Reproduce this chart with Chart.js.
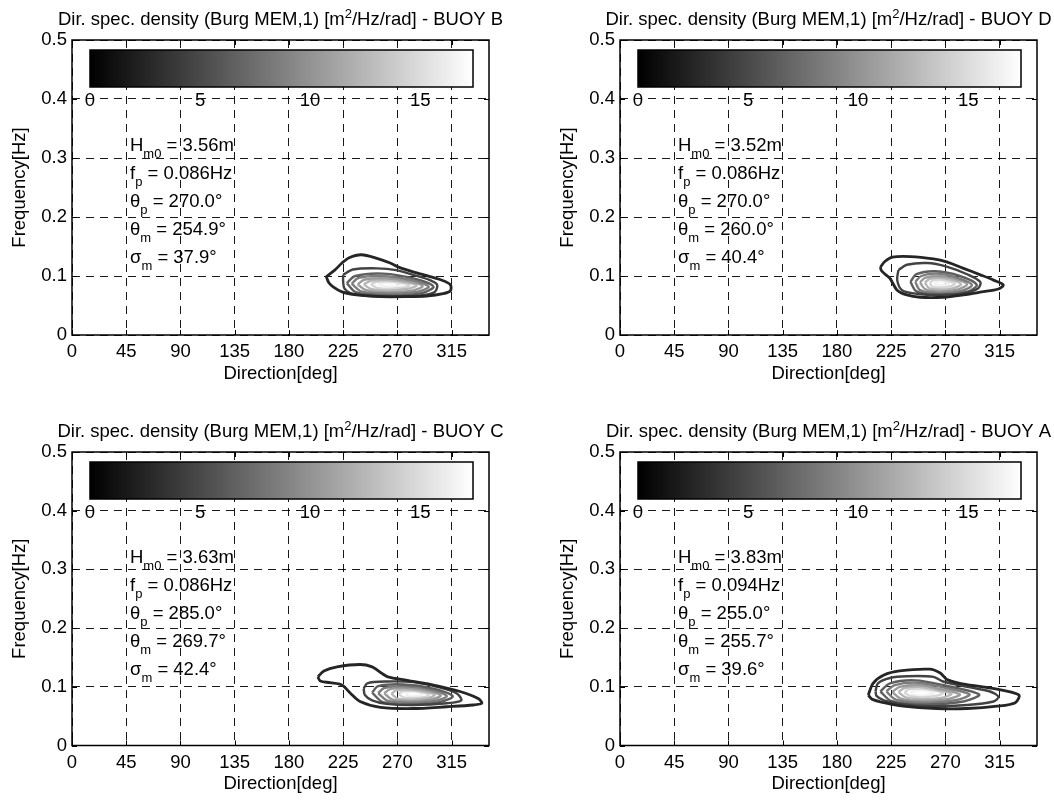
<!DOCTYPE html>
<html lang="en">
<head>
<meta charset="UTF-8">
<title>Dir. spec. density - 4 buoys</title>
<style>
  html, body { margin: 0; padding: 0; background: #fff; overflow: hidden; }
  body { width: 1054px; height: 801px; position: relative; }
  canvas { position: absolute; }
</style>
</head>
<body>
<canvas id="c0" width="548" height="411" style="left:0;top:0"></canvas>
<canvas id="c1" width="506" height="411" style="left:548px;top:0"></canvas>
<canvas id="c2" width="548" height="411" style="left:0;top:411px"></canvas>
<canvas id="c3" width="506" height="411" style="left:548px;top:411px"></canvas>

<script src="https://cdn.jsdelivr.net/npm/chart.js"></script>
<script>
// panel order: top-left, top-right, bottom-left, bottom-right
const buoys  = ['B', 'D', 'C', 'A'];
const hm0    = [3.56, 3.52, 3.63, 3.83];
const fp     = [0.086, 0.086, 0.086, 0.094];
const thetaP = [270.0, 270.0, 285.0, 255.0];
const thetaM = [254.9, 260.0, 269.7, 255.7];
const sigmaM = [37.9, 40.4, 42.4, 39.6];

const xTicks = [0, 45, 90, 135, 180, 225, 270, 315];
const yTicks = [0, 0.1, 0.2, 0.3, 0.4, 0.5];
const cbarTicks = [0, 5, 10, 15];
const cbarMax = 17.4;
const contourLevels = [2.5, 4.5, 6.5, 8.5, 10.5, 12.5, 14.5, 16.5];

// contour lines, [direction deg, frequency Hz], outermost first
const contoursB = [
  [[211,0.099],[218,0.110],[224,0.122],[230,0.131],[240,0.136],[253,0.130],[264,0.122],[271,0.115],[283,0.107],[297,0.099],[308,0.092],[314,0.085],[314,0.075],[308,0.070],[294,0.066],[278,0.065],[256,0.065],[236,0.068],[224,0.073],[217,0.081],[213,0.089]],
  [[225,0.102],[233,0.111],[253,0.113],[269,0.110],[283,0.102],[297,0.093],[303,0.085],[301,0.073],[292,0.068],[269,0.065],[247,0.066],[231,0.071],[226,0.079],[225,0.090]],
  [[228,0.088],[235,0.100],[258,0.104],[285,0.095],[300,0.082],[290,0.071],[262,0.067],[236,0.072]],
  [[232,0.087],[238,0.097],[258,0.100],[282,0.093],[296,0.082],[286,0.073],[262,0.070],[240,0.074]],
  [[237,0.086],[243,0.094],[260,0.096],[280,0.091],[291,0.083],[282,0.075],[262,0.072],[244,0.076]],
  [[242,0.086],[248,0.092],[262,0.093],[278,0.089],[286,0.084],[278,0.078],[262,0.075],[248,0.078]],
  [[248,0.086],[253,0.090],[263,0.091],[274,0.088],[280,0.084],[274,0.080],[263,0.078],[253,0.080]],
  [[254,0.086],[258,0.088],[264,0.089],[270,0.087],[273,0.085],[270,0.083],[264,0.082],[258,0.083]]
];
const contoursD = [
  [[216,0.115],[220,0.125],[226,0.132],[241,0.133],[260,0.129],[271,0.124],[285,0.113],[299,0.102],[310,0.093],[318,0.085],[314,0.078],[300,0.073],[285,0.068],[268,0.064],[249,0.064],[238,0.068],[230,0.076],[224,0.096],[220,0.103],[217,0.109]],
  [[231,0.110],[238,0.119],[255,0.122],[271,0.116],[288,0.103],[299,0.090],[297,0.079],[285,0.071],[266,0.068],[246,0.070],[234,0.076],[230,0.093]],
  [[241,0.090],[246,0.103],[262,0.108],[282,0.100],[296,0.085],[288,0.073],[265,0.068],[246,0.074]],
  [[245,0.090],[250,0.100],[263,0.104],[280,0.097],[292,0.085],[284,0.075],[264,0.071],[249,0.076]],
  [[249,0.089],[253,0.097],[264,0.100],[278,0.095],[288,0.086],[280,0.077],[264,0.074],[253,0.078]],
  [[253,0.089],[257,0.095],[265,0.097],[276,0.093],[283,0.086],[276,0.079],[264,0.077],[256,0.080]],
  [[257,0.088],[260,0.093],[266,0.094],[273,0.091],[278,0.087],[273,0.082],[265,0.080],[259,0.082]],
  [[261,0.088],[263,0.090],[267,0.091],[271,0.089],[273,0.087],[270,0.085],[266,0.084],[262,0.085]]
];
const contoursC = [
  [[204,0.117],[209,0.127],[220,0.134],[239,0.138],[249,0.134],[257,0.123],[262,0.117],[278,0.111],[300,0.103],[322,0.092],[337,0.080],[340,0.072],[333,0.069],[311,0.066],[283,0.063],[256,0.065],[239,0.075],[231,0.089],[224,0.103],[214,0.107],[206,0.110]],
  [[242,0.097],[245,0.106],[261,0.109],[283,0.108],[303,0.100],[319,0.089],[323,0.077],[311,0.072],[283,0.069],[261,0.071],[249,0.077],[243,0.086]],
  [[249,0.090],[254,0.101],[275,0.104],[300,0.097],[316,0.084],[305,0.074],[280,0.070],[258,0.074]],
  [[254,0.089],[259,0.098],[277,0.101],[298,0.095],[311,0.084],[301,0.076],[280,0.073],[262,0.076]],
  [[259,0.089],[264,0.096],[279,0.098],[296,0.093],[306,0.085],[297,0.078],[281,0.075],[266,0.078]],
  [[265,0.088],[269,0.094],[281,0.095],[294,0.091],[301,0.086],[294,0.080],[282,0.078],[270,0.080]],
  [[271,0.088],[274,0.092],[283,0.093],[292,0.090],[296,0.086],[291,0.082],[283,0.081],[275,0.082]],
  [[277,0.087],[279,0.090],[284,0.091],[289,0.089],[291,0.087],[288,0.084],[284,0.084],[279,0.084]]
];
const contoursA = [
  [[206,0.086],[210,0.106],[219,0.120],[232,0.127],[257,0.130],[266,0.123],[271,0.113],[282,0.106],[301,0.100],[318,0.094],[331,0.086],[328,0.073],[313,0.067],[288,0.063],[263,0.063],[235,0.067],[219,0.073],[209,0.079]],
  [[212,0.092],[214,0.106],[224,0.115],[238,0.118],[260,0.117],[268,0.109],[288,0.100],[307,0.092],[314,0.083],[310,0.075],[288,0.069],[257,0.067],[232,0.071],[219,0.077],[213,0.084]],
  [[216,0.092],[224,0.106],[245,0.111],[268,0.103],[298,0.087],[285,0.075],[250,0.070],[225,0.076]],
  [[221,0.092],[228,0.103],[247,0.107],[266,0.100],[290,0.087],[278,0.077],[250,0.073],[229,0.078]],
  [[226,0.091],[232,0.100],[248,0.103],[264,0.097],[282,0.087],[272,0.079],[250,0.076],[233,0.080]],
  [[231,0.091],[236,0.098],[249,0.100],[262,0.095],[275,0.088],[266,0.081],[250,0.079],[237,0.082]],
  [[236,0.090],[240,0.096],[250,0.097],[260,0.094],[268,0.089],[261,0.084],[250,0.082],[241,0.084]],
  [[241,0.090],[244,0.093],[250,0.094],[257,0.092],[261,0.089],[256,0.086],[250,0.085],[244,0.086]]
];

const FONT = "'Liberation Sans', Arial, Helvetica, sans-serif";
const FS = 18.5;   // main text size
const FS_SMALL = 13;
Chart.defaults.font.family = FONT;
Chart.defaults.color = '#000';

function grayFor(level) {
  const g = Math.round(255 * Math.min(level / cbarMax, 1));
  return `rgb(${g},${g},${g})`;
}

// colorbar, annotation text, title, inward ticks and axes box
const panelDeco = {
  id: 'panelDeco',
  beforeDatasetsDraw(chart) {
    const { ctx, chartArea: a } = chart;
    const i = chart.options.plugins.panelDeco.index;
    const cl = a.left + 18, cr = a.right - 16, ct = a.top + 10, cb = a.top + 47;
    ctx.save();
    const g = ctx.createLinearGradient(cl, 0, cr, 0);
    g.addColorStop(0, '#000');
    g.addColorStop(1, '#fff');
    ctx.fillStyle = g;
    ctx.fillRect(cl, ct, cr - cl, cb - ct);
    ctx.strokeStyle = '#000';
    ctx.lineWidth = 1.5;
    ctx.strokeRect(cl, ct, cr - cl, cb - ct);

    ctx.fillStyle = '#000';
    ctx.font = FS + 'px ' + FONT;
    ctx.textAlign = 'center';
    ctx.textBaseline = 'alphabetic';
    cbarTicks.forEach(v => {
      ctx.fillText(String(v), cl + (cr - cl) * v / cbarMax, a.top + 66);
    });

    const lines = [
      ['H', 'm0', ' = ' + hm0[i].toFixed(2) + 'm'],
      ['f', 'p', ' = ' + fp[i].toFixed(3) + 'Hz'],
      ['\u03B8', 'p', ' = ' + thetaP[i].toFixed(1) + '\u00B0'],
      ['\u03B8', 'm', ' = ' + thetaM[i].toFixed(1) + '\u00B0'],
      ['\u03C3', 'm', ' = ' + sigmaM[i].toFixed(1) + '\u00B0']
    ];
    ctx.textAlign = 'left';
    lines.forEach((ln, k) => {
      let x = a.left + 58;
      const y = a.top + 111 + k * 28;
      ctx.font = FS + 'px ' + FONT;
      ctx.fillText(ln[0], x, y);
      x += ctx.measureText(ln[0]).width;
      ctx.font = FS_SMALL + 'px ' + FONT;
      ctx.fillText(ln[1], x, y + 7);
      x += ctx.measureText(ln[1]).width;
      ctx.font = FS + 'px ' + FONT;
      ctx.fillText(ln[2], x, y);
    });
    ctx.restore();
  },
  afterDraw(chart) {
    const { ctx, chartArea: a, scales } = chart;
    const i = chart.options.plugins.panelDeco.index;
    ctx.save();
    ctx.strokeStyle = '#000';
    ctx.lineWidth = 1;
    ctx.beginPath();
    xTicks.forEach(v => {
      const px = Math.round(scales.x.getPixelForValue(v)) + 0.5;
      ctx.moveTo(px, a.bottom); ctx.lineTo(px, a.bottom - 5);
      ctx.moveTo(px, a.top); ctx.lineTo(px, a.top + 5);
    });
    yTicks.forEach(v => {
      const py = Math.round(scales.y.getPixelForValue(v)) + 0.5;
      ctx.moveTo(a.left, py); ctx.lineTo(a.left + 5, py);
      ctx.moveTo(a.right, py); ctx.lineTo(a.right - 5, py);
    });
    ctx.stroke();
    ctx.lineWidth = 1.5;
    ctx.strokeRect(a.left, a.top, a.right - a.left, a.bottom - a.top);

    // title with superscript
    const pre = 'Dir. spec. density (Burg MEM,1) [m';
    const sup = '2';
    const post = '/Hz/rad] - BUOY ' + buoys[i];
    const main = FS + 'px ' + FONT, small = FS_SMALL + 'px ' + FONT;
    ctx.font = main;
    const w1 = ctx.measureText(pre).width, w3 = ctx.measureText(post).width;
    ctx.font = small;
    const w2 = ctx.measureText(sup).width;
    let x = (a.left + a.right) / 2 - (w1 + w2 + w3) / 2;
    const y = a.top - 15;
    ctx.fillStyle = '#000';
    ctx.textAlign = 'left';
    ctx.textBaseline = 'alphabetic';
    ctx.font = main; ctx.fillText(pre, x, y); x += w1;
    ctx.font = small; ctx.fillText(sup, x, y - 7); x += w2;
    ctx.font = main; ctx.fillText(post, x, y);
    ctx.restore();
  }
};

function makeChart(id, i, contours, pad) {
  const datasets = contours.map((poly, k) => ({
    data: poly.concat([poly[0]]).map(p => ({ x: p[0], y: p[1] })),
    showLine: true,
    pointRadius: 0,
    borderColor: grayFor(contourLevels[k]),
    borderWidth: k === 0 ? 2.8 : 2.4,
    tension: 0.3,
    fill: false
  }));
  const tickFont = { size: FS };
  return new Chart(document.getElementById(id), {
    type: 'scatter',
    data: { datasets },
    plugins: [panelDeco],
    options: {
      responsive: false,
      animation: false,
      layout: { padding: pad },
      plugins: {
        legend: { display: false },
        tooltip: { enabled: false },
        panelDeco: { index: i }
      },
      scales: {
        x: {
          type: 'linear', min: 0, max: 346,
          afterBuildTicks: s => { s.ticks = xTicks.map(v => ({ value: v })); },
          afterFit: s => { s.height = 54; },
          grid: { color: 'rgba(0,0,0,0.9)', lineWidth: 1, drawTicks: false },
          border: { display: false, dash: [8, 6] },
          ticks: { color: '#000', font: tickFont, padding: 6, maxRotation: 0, autoSkip: false },
          title: { display: true, text: 'Direction[deg]', color: '#000', font: tickFont, padding: { top: 4, bottom: 4 } }
        },
        y: {
          type: 'linear', min: 0, max: 0.5,
          afterBuildTicks: s => { s.ticks = yTicks.map(v => ({ value: v })); },
          afterFit: s => { s.width = 72; },
          grid: { color: 'rgba(0,0,0,0.9)', lineWidth: 1, drawTicks: false },
          border: { display: false, dash: [8, 6] },
          ticks: { color: '#000', font: tickFont, padding: 5, autoSkip: false,
                   callback: v => v === 0 ? '0' : v.toFixed(1) },
          title: { display: true, text: 'Frequency[Hz]', color: '#000', font: tickFont, padding: { top: 9, bottom: 4 } }
        }
      }
    }
  });
}

makeChart('c0', 0, contoursB, { top: 40, right: 59, bottom: 22, left: 0 });
makeChart('c1', 1, contoursD, { top: 40, right: 17, bottom: 22, left: 0 });
makeChart('c2', 2, contoursC, { top: 41, right: 59, bottom: 22.5, left: 0 });
makeChart('c3', 3, contoursA, { top: 41, right: 17, bottom: 22.5, left: 0 });
</script>
</body>
</html>
